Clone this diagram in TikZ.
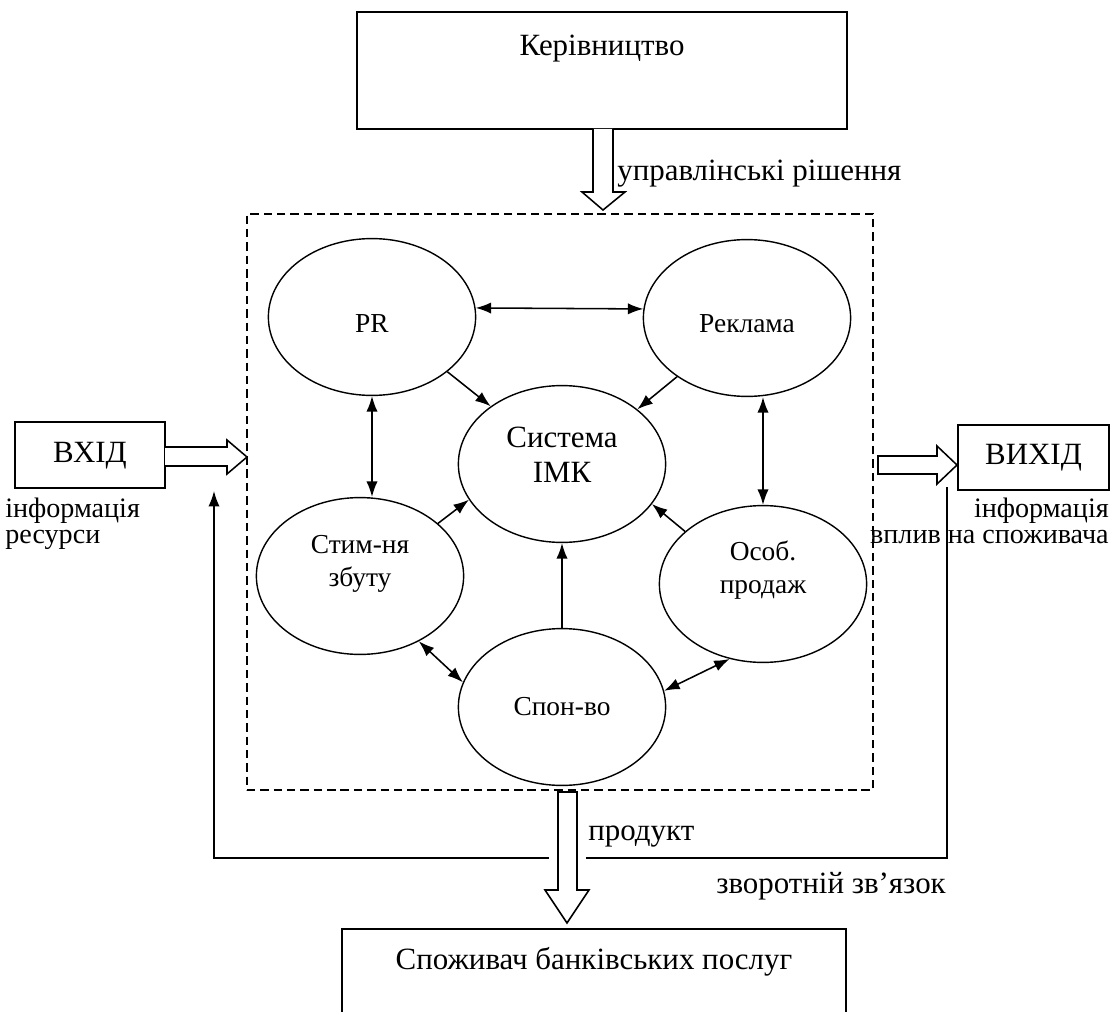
\documentclass[tikz,border=0pt]{standalone}
\usepackage{fontspec}
\setmainfont{Liberation Serif}
\usetikzlibrary{arrows.meta,shapes.geometric,calc}
\begin{document}
\begin{tikzpicture}[x=0.025cm,y=-0.025cm,
  boxx/.style={draw, line width=1.3pt, inner sep=0, rectangle},
  oval/.style={draw, ellipse, line width=1pt, minimum width=5.18cm, minimum height=3.92cm, inner sep=0},
  conn/.style={line width=1.1pt},
  onearrow/.style={conn,-{Latex[length=11pt,width=8pt]}},
  twoarrow/.style={conn,{Latex[length=11pt,width=8pt]}-{Latex[length=11pt,width=8pt]}},
  hollow/.style={draw, line width=1.1pt, fill=white, line join=miter},
  bigtxt/.style={font=\fontsize{22}{26}\selectfont, inner sep=0, anchor=base},
  ovtxt/.style={font=\fontsize{19.5}{23}\selectfont, inner sep=0, anchor=base},
  cenvtxt/.style={font=\fontsize{22}{25}\selectfont, inner sep=0, anchor=base},
  sidetxt/.style={font=\fontsize{20}{24}\selectfont, inner sep=0},
]
\useasboundingbox (0,0) rectangle (1119,1012);
\clip (0,0) rectangle (1119,1012);

% boxes
\node[boxx, minimum width=12.25cm, minimum height=2.925cm] (ker) at (602,70.5) {};
\node[bigtxt] (kert) at (602,56) {Керівництво};
\node[boxx, minimum width=3.75cm, minimum height=1.65cm] (vhid) at (90,455) {};
\node[bigtxt] (vhidt) at (90,462) {ВХІД};
\node[boxx, minimum width=3.775cm, minimum height=1.625cm] (vyhid) at (1033.5,457.5) {};
\node[bigtxt] (vyhidt) at (1033.5,464) {ВИХІД};
\node[boxx, minimum width=12.6cm, minimum height=2.775cm] (spozh) at (594,984.5) {};
\node[bigtxt] (spozht) at (594,969) {Споживач банківських послуг};

% dashed system frame
\node[draw, line width=1.2pt, dash pattern=on 6pt off 3.5pt, minimum width=15.65cm, minimum height=14.4cm, inner sep=0] (sys) at (560,502) {};

% ellipses
\node[oval] (pr) at (372,317) {};
\node[oval] (rek) at (747,318) {};
\node[oval] (imk) at (562,464) {};
\node[oval] (stim) at (360,576) {};
\node[oval] (osob) at (763,584) {};
\node[oval] (spon) at (562,707) {};

\node[ovtxt] (prt) at (372,332) {PR};
\node[ovtxt] (rekt) at (747,332) {Реклама};
\node[cenvtxt] (imkt1) at (562,447) {Система};
\node[cenvtxt] (imkt2) at (562,482) {ІМК};
\node[ovtxt] (stimt1) at (360,553) {Стим-ня};
\node[ovtxt] (stimt2) at (360,586) {збуту};
\node[ovtxt] (osobt1) at (763,560) {Особ.};
\node[ovtxt] (osobt2) at (763,593) {продаж};
\node[ovtxt] (spont) at (562,715) {Спон-во};

% connectors between ellipses
\draw[twoarrow] (pr.5) -- (rek.175);
\draw[onearrow] (pr.-36) -- (imk.141);
\draw[onearrow] (rek.220) -- (imk.36);
\draw[twoarrow] (pr.south) -- (pr.south |- stim.north);
\draw[twoarrow] (osob.north |- rek.south) -- (osob.north);
\draw[onearrow] (stim.34) -- (imk.201);
\draw[onearrow] (osob.146) -- (imk.-24);
\draw[onearrow] (spon.north) -- (imk.south);
\draw[twoarrow] (stim.-48) -- (spon.166);
\draw[twoarrow] (osob.-114) -- (spon.9);

% feedback loop
\coordinate (fbtop) at (947,487);
\coordinate (fbleft) at (214,858);
\coordinate (fbend) at (214,491);
\draw[onearrow] (fbtop) |- (fbleft) -- (fbend);
\fill[white] (549,850) rectangle (586,866);

% hollow arrows
\draw[hollow] (593,129) -- (593,192) -- (582,192) -- (603,210) -- (625,192) -- (613,192) -- (613,129);
\draw[hollow] (165,447) -- (227,447) -- (227,440) -- (247,457) -- (227,474) -- (227,466) -- (165,466);
\draw[hollow] (878,456) -- (937,456) -- (937,446) -- (957,465) -- (937,484) -- (937,474) -- (878,474) -- cycle;
\draw[hollow] (558,792) -- (558,890) -- (545,890) -- (567,923) -- (589,890) -- (577,890) -- (577,792) -- cycle;

% labels
\node[sidetxt, font=\fontsize{22}{26}\selectfont, anchor=base west] (upr) at (617,181) {управлінські рішення};
\node[sidetxt, anchor=base west] (inf1) at (5,517) {інформація};
\node[sidetxt, anchor=base west] (res) at (5,543) {ресурси};
\node[sidetxt, anchor=base east] (inf2) at (1109,517) {інформація};
\node[sidetxt, anchor=base east] (vplyv) at (1109,543) {вплив на споживача};
\node[sidetxt, font=\fontsize{22}{26}\selectfont, anchor=base west] (prod) at (588,840) {продукт};
\node[sidetxt, font=\fontsize{22}{26}\selectfont, anchor=base west] (zvor) at (716,893) {зворотній зв’язок};
\end{tikzpicture}
\end{document}
